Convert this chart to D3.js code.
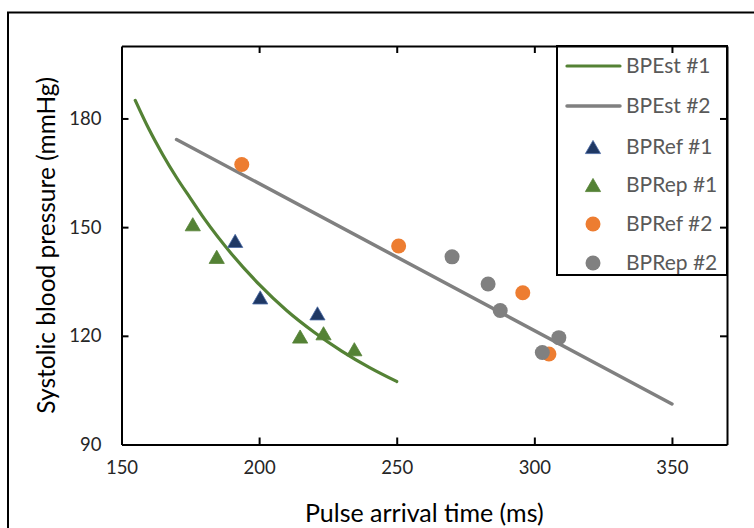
<!DOCTYPE html>
<html>
<head>
<meta charset="utf-8">
<script src="https://cdn.jsdelivr.net/npm/d3@7"></script>
<style>
  body { margin: 0; background: #ffffff; }
  text { font-family: Lato, "Open Sans", sans-serif; }
</style>
</head>
<body>
<div id="chart"></div>
<script>
// ---- data ----
const xTicks = [150, 200, 250, 300, 350];
const yTicks = [90, 120, 150, 180];

// BPEst #1 (fitted curve)
const est1PAT = [155, 160, 165, 170, 175, 180, 190, 200, 210, 220, 230, 240, 250];
const est1SBP = [185, 177, 170, 163.7, 158, 152.4, 142.6, 134.2, 127, 121, 115.8, 111.3, 107.4];

// BPEst #2 (straight line)
const est2PAT = [170, 350];
const est2SBP = [174.2, 101.2];

const ref1PAT = [191.3, 200.4, 221.2];
const ref1SBP = [146.2, 130.6, 126.2];

const rep1PAT = [175.9, 184.6, 214.9, 223.4, 234.6];
const rep1SBP = [150.8, 141.8, 119.8, 120.7, 116.3];

const ref2PAT = [193.7, 250.7, 295.8, 305.3];
const ref2SBP = [167.3, 144.8, 131.9, 115.0];

const rep2PAT = [270.1, 283.2, 287.6, 308.9, 302.9];
const rep2SBP = [141.8, 134.3, 127.0, 119.5, 115.4];

const legendNames = ["BPEst #1", "BPEst #2", "BPRef #1", "BPRep #1", "BPRef #2", "BPRep #2"];

function chart() {
    const W = 754, H = 528;
    const margin = {l: 121.5, r: 27, t: 46, b: 83.5};
    const width = W - margin.l - margin.r;
    const height = H - margin.t - margin.b;

    const green = "#548235", gray = "#808080", navy = "#1f3864", orange = "#ed7d31";

    let outerSvg = d3.select("#chart")
        .append("svg")
        .attr("width", W)
        .attr("height", H);

    outerSvg.append("rect")
        .attr("width", "100%")
        .attr("height", "100%")
        .attr("fill", "#ffffff");

    // outer frame (only left and top edges fall inside the picture)
    outerSvg.append("rect")
        .attr("x", 8).attr("y", 12.5)
        .attr("width", 900).attr("height", 700)
        .attr("fill", "none")
        .attr("stroke", "#000")
        .attr("stroke-width", 2);

    let svg = outerSvg.append("g")
        .attr("transform", `translate(${margin.l}, ${margin.t})`);

    let scaleX = d3.scaleLinear().domain([150, 370]).range([0, width]);
    let scaleY = d3.scaleLinear().domain([90, 200]).range([height, 0]);

    // zipped series
    const zip = (xs, ys) => xs.map((x, i) => ({x: x, y: ys[i]}));

    // lines
    let line = d3.line()
        .x(d => scaleX(d.x))
        .y(d => scaleY(d.y))
        .curve(d3.curveMonotoneX);

    svg.append("path")
        .datum(zip(est1PAT, est1SBP))
        .attr("d", line)
        .attr("fill", "none")
        .attr("stroke", green)
        .attr("stroke-width", 3.2)
        .attr("stroke-linecap", "round");

    svg.append("path")
        .datum(zip(est2PAT, est2SBP))
        .attr("d", line)
        .attr("fill", "none")
        .attr("stroke", gray)
        .attr("stroke-width", 3.5)
        .attr("stroke-linecap", "round");

    // markers
    const triSize = 100;
    const triR = Math.sqrt(triSize / (3 * Math.sqrt(3)));   // d3 triangle unit
    const triShift = triR / 2;  // move centroid to box centre
    let tri = d3.symbol().type(d3.symbolTriangle).size(triSize);

    function triangles(data, fill, stroke) {
        svg.append("g").selectAll("path")
            .data(data)
            .enter()
            .append("path")
            .attr("d", tri)
            .attr("transform", d => `translate(${scaleX(d.x)},${scaleY(d.y) + triShift})`)
            .attr("fill", fill)
            .attr("stroke", stroke)
            .attr("stroke-width", 0.8);
    }
    function circles(data, fill) {
        svg.append("g").selectAll("circle")
            .data(data)
            .enter()
            .append("circle")
            .attr("cx", d => scaleX(d.x))
            .attr("cy", d => scaleY(d.y))
            .attr("r", 7.5)
            .attr("fill", fill);
    }

    triangles(zip(ref1PAT, ref1SBP), navy, "#4a6aa5");
    triangles(zip(rep1PAT, rep1SBP), green, green);
    circles(zip(ref2PAT, ref2SBP), orange);
    circles(zip(rep2PAT, rep2SBP), gray);

    // axes, ticks pointing inward on all four sides
    let axisX = d3.axisBottom(scaleX).tickValues(xTicks).tickSizeInner(-7).tickSizeOuter(0).tickPadding(16);
    let axisY = d3.axisLeft(scaleY).tickValues(yTicks).tickSizeInner(-7).tickSizeOuter(0).tickPadding(20);
    let axisTop = d3.axisTop(scaleX).tickValues(xTicks).tickSizeInner(-7).tickSizeOuter(0).tickFormat("");
    let axisRight = d3.axisRight(scaleY).tickValues(yTicks).tickSizeInner(-7).tickSizeOuter(0).tickFormat("");

    let gx = svg.append("g")
        .attr("transform", `translate(0,${height})`)
        .call(axisX);
    let gy = svg.append("g").call(axisY);
    let gt = svg.append("g").call(axisTop);
    let gr = svg.append("g")
        .attr("transform", `translate(${width},0)`)
        .call(axisRight);

    [gx, gy, gt, gr].forEach(g => {
        g.select(".domain").attr("stroke", "#000").attr("stroke-width", 2);
        g.selectAll(".tick line").attr("stroke", "#000").attr("stroke-width", 2);
        g.selectAll(".tick text")
            .attr("fill", "#262626")
            .style("font-size", "18.5px");
    });
    gx.selectAll(".tick").filter(d => d === 150).select("line").remove();
    gt.selectAll(".tick").filter(d => d === 150).select("line").remove();
    gy.selectAll(".tick").filter(d => d === 90).select("line").remove();
    gr.selectAll(".tick").filter(d => d === 90).select("line").remove();

    // axis titles
    svg.append("text")
        .attr("x", width / 2)
        .attr("y", height + 77)
        .attr("text-anchor", "middle")
        .style("font-size", "25px")
        .attr("fill", "#000")
        .text("Pulse arrival time (ms)");

    svg.append("text")
        .attr("transform", "rotate(-90)")
        .attr("x", -height / 2)
        .attr("y", -margin.l + 55)
        .attr("text-anchor", "middle")
        .style("font-size", "24.5px")
        .attr("fill", "#000")
        .text("Systolic blood pressure (mmHg)");

    // legend
    const legX = 557 - margin.l, legY = 0, legW = width - (557 - margin.l), legH = 229;
    let lg = svg.append("g").attr("transform", `translate(${legX},${legY})`);
    lg.append("rect")
        .attr("width", legW).attr("height", legH)
        .attr("fill", "none")
        .attr("stroke", "#000")
        .attr("stroke-width", 2);

    const rowY = [20, 60, 101, 139, 178, 217];
    legendNames.forEach(function(name, i) {
        let row = lg.append("g").attr("transform", `translate(0,${rowY[i]})`);
        if (i < 2) {
            row.append("line")
                .attr("x1", 10).attr("x2", 63)
                .attr("stroke", i === 0 ? green : gray)
                .attr("stroke-width", i === 0 ? 3.2 : 3.5)
                .attr("stroke-linecap", "round");
        } else if (i < 4) {
            row.append("path")
                .attr("d", tri)
                .attr("transform", `translate(36,${triShift})`)
                .attr("fill", i === 2 ? navy : green)
                .attr("stroke", i === 2 ? "#4a6aa5" : green)
                .attr("stroke-width", 0.8);
        } else {
            row.append("circle")
                .attr("cx", 36).attr("r", 7.5)
                .attr("fill", i === 4 ? orange : gray);
        }
        row.append("text")
            .attr("x", 69)
            .attr("dy", "0.35em")
            .style("font-size", "21px")
            .attr("fill", "#595959")
            .text(name);
    });
}

chart();
</script>
</body>
</html>
